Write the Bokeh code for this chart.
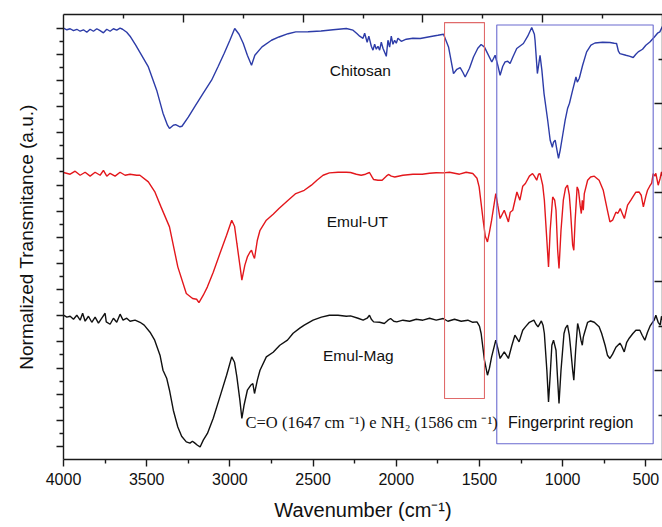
from bokeh.plotting import figure
from bokeh.models import Range1d, LinearAxis, FixedTicker, ColumnDataSource, CustomJSTickFormatter
from bokeh.models.labeling import CustomLabelingPolicy
from bokeh.core.properties import value
from bokeh.embed import file_html
from bokeh.resources import INLINE

# ---------------- data ----------------
chitosan_wn = [4000, 3980, 3960, 3940, 3920, 3900, 3880, 3860, 3840, 3820, 3800, 3780, 3760, 3740, 3720, 3700,
               3680, 3660, 3645, 3620, 3600, 3566, 3490, 3440, 3402, 3375, 3363, 3340, 3326, 3300, 3288, 3250,
               3212, 3160, 3110, 3070, 3034, 3000, 2971, 2945, 2920, 2895, 2870, 2850, 2807, 2750, 2705, 2650,
               2604, 2530, 2452, 2380, 2300, 2260, 2237, 2220, 2200, 2190, 2175, 2165, 2150, 2140, 2130, 2120,
               2110, 2100, 2090, 2080, 2070, 2060, 2050, 2040, 2030, 2020, 2010, 2000, 1990, 1970, 1940, 1900,
               1856, 1800, 1750, 1716, 1686, 1656, 1636, 1616, 1600, 1586, 1560, 1536, 1510, 1490, 1470, 1456,
               1426, 1406, 1390, 1376, 1360, 1346, 1330, 1316, 1300, 1276, 1236, 1210, 1186, 1170, 1166, 1152,
               1136, 1125, 1112, 1090, 1075, 1062, 1055, 1045, 1034, 1025, 1015, 1000, 985, 970, 959, 940,
               920, 912, 900, 880, 856, 830, 806, 760, 716, 690, 676, 665, 656, 620, 600, 576,
               560, 546, 520, 500, 476, 450, 430, 416, 400]
chitosan_t = [33.00, 32.88, 32.96, 32.81, 32.92, 32.77, 32.88, 32.69, 32.92, 32.77, 32.96, 32.81, 32.65, 32.92, 32.77, 32.96,
              32.85, 33.00, 32.92, 32.69, 32.39, 31.70, 30.04, 28.26, 26.50, 25.58, 25.33, 25.58, 25.62, 25.46, 25.50, 26.19,
              26.98, 28.03, 29.02, 30.09, 31.09, 32.08, 32.98, 32.54, 31.85, 30.93, 30.17, 30.93, 31.57, 32.08, 32.33, 32.58,
              32.72, 32.73, 32.79, 32.88, 32.98, 32.85, 32.59, 32.39, 32.23, 32.62, 31.93, 32.39, 31.62, 31.32, 31.77, 31.39,
              31.62, 31.32, 31.93, 31.47, 31.16, 30.85, 32.08, 31.55, 32.39, 31.77, 32.08, 31.85, 32.23, 32.00, 32.16, 32.23,
              32.21, 32.35, 32.46, 32.54, 31.57, 29.53, 29.86, 29.99, 29.63, 29.27, 29.94, 30.80, 31.47, 31.75, 31.55, 31.19,
              30.42, 30.93, 30.17, 29.40, 30.09, 30.42, 30.47, 30.30, 30.78, 31.45, 31.83, 32.39, 33.05, 32.54, 32.08, 29.53,
              30.93, 29.79, 28.00, 25.96, 24.43, 23.89, 24.28, 24.43, 23.66, 23.05, 23.66, 24.81, 25.96, 26.88, 27.26, 28.26,
              29.27, 28.87, 29.17, 30.17, 31.19, 31.70, 31.87, 31.93, 31.91, 31.85, 31.83, 31.24, 31.06, 30.93, 30.86, 30.76,
              31.01, 31.19, 31.39, 31.70, 31.95, 32.31, 32.62, 32.72, 33.15]

emul_ut_wn = [4000, 3960, 3930, 3900, 3870, 3840, 3810, 3780, 3760, 3740, 3720, 3690, 3660, 3630, 3600, 3560,
              3541, 3490, 3450, 3414, 3363, 3313, 3262, 3224, 3200, 3186, 3160, 3135, 3100, 3060, 3020, 2989,
              2972, 2958, 2940, 2928, 2910, 2895, 2880, 2870, 2860, 2852, 2835, 2819, 2781, 2740, 2705, 2650,
              2604, 2553, 2510, 2477, 2440, 2402, 2350, 2300, 2275, 2240, 2211, 2185, 2161, 2145, 2136, 2110,
              2085, 2060, 2047, 2030, 2009, 1960, 1900, 1844, 1800, 1760, 1718, 1680, 1620, 1580, 1540, 1515,
              1502, 1478, 1465, 1452, 1440, 1427, 1402, 1390, 1376, 1351, 1326, 1315, 1300, 1275, 1257, 1240,
              1224, 1200, 1181, 1170, 1156, 1145, 1136, 1120, 1110, 1095, 1085, 1075, 1060, 1048, 1040, 1030,
              1022, 1010, 996, 983, 971, 960, 953, 940, 933, 925, 913, 905, 895, 888, 882, 876,
              870, 850, 832, 810, 781, 756, 731, 716, 700, 680, 668, 654, 640, 629, 610, 590,
              578, 560, 541, 528, 515, 500, 490, 477, 465, 456, 445, 440, 426, 414, 406, 400]
emul_ut_t = [21.96, 21.83, 22.06, 21.75, 21.98, 21.68, 21.98, 21.75, 22.13, 21.68, 21.90, 21.68, 21.98, 21.75, 21.83, 21.75,
             21.75, 21.24, 20.45, 19.33, 17.80, 14.74, 12.70, 12.32, 12.26, 12.01, 12.57, 13.21, 14.33, 15.76, 17.16, 18.31,
             17.85, 16.53, 14.87, 13.72, 14.87, 15.50, 15.86, 16.01, 15.63, 15.38, 16.78, 17.54, 18.31, 18.77, 19.20, 19.84,
             20.35, 20.60, 20.99, 21.37, 21.75, 21.93, 21.98, 21.98, 21.96, 21.83, 21.75, 21.83, 21.96, 21.60, 21.42, 21.37,
             21.37, 21.68, 21.81, 21.68, 21.62, 21.75, 21.83, 21.83, 21.90, 21.94, 21.93, 21.98, 21.83, 21.98, 21.88, 21.52,
             20.86, 18.31, 17.08, 16.65, 17.39, 18.31, 20.35, 19.46, 18.44, 19.07, 18.18, 18.92, 19.07, 20.47, 19.84, 20.91,
             21.12, 21.68, 21.88, 21.68, 21.37, 21.83, 21.88, 20.99, 19.84, 16.78, 14.74, 17.54, 20.09, 19.84, 19.07, 16.01,
             14.61, 17.54, 19.84, 20.76, 20.99, 20.22, 19.07, 16.40, 16.01, 18.31, 20.86, 20.60, 19.46, 18.82, 19.84, 19.07,
             20.35, 21.37, 21.62, 21.68, 21.37, 20.60, 19.07, 18.18, 18.31, 18.92, 18.84, 19.20, 18.77, 18.44, 19.46, 19.84,
             20.09, 20.45, 20.47, 20.22, 19.33, 20.15, 20.60, 20.91, 21.14, 21.88, 21.68, 21.90, 20.99, 21.52, 22.00, 21.68]

emul_mag_wn = [4000, 3980, 3960, 3940, 3920, 3900, 3885, 3870, 3850, 3830, 3810, 3790, 3770, 3750, 3743, 3720,
               3700, 3680, 3660, 3642, 3620, 3600, 3570, 3540, 3515, 3480, 3452, 3420, 3402, 3380, 3363, 3340,
               3313, 3290, 3262, 3240, 3225, 3212, 3195, 3179, 3160, 3135, 3100, 3060, 3020, 2989, 2972, 2958,
               2940, 2928, 2915, 2895, 2875, 2862, 2852, 2835, 2819, 2781, 2740, 2700, 2654, 2620, 2580, 2553,
               2500, 2450, 2402, 2350, 2300, 2275, 2230, 2199, 2175, 2161, 2150, 2136, 2100, 2072, 2050, 2034,
               2015, 1997, 1960, 1920, 1880, 1840, 1800, 1760, 1718, 1690, 1650, 1610, 1570, 1540, 1515, 1500,
               1490, 1470, 1452, 1440, 1427, 1402, 1390, 1376, 1351, 1326, 1305, 1287, 1262, 1240, 1224, 1200,
               1173, 1160, 1148, 1128, 1118, 1110, 1095, 1085, 1075, 1065, 1055, 1040, 1030, 1022, 1010, 992,
               983, 971, 960, 953, 940, 933, 922, 910, 900, 890, 882, 876, 870, 850, 832, 810,
               781, 766, 745, 731, 716, 700, 680, 656, 645, 630, 615, 600, 578, 560, 536, 522,
               506, 490, 475, 464, 450, 440, 426, 414, 406, 400]
emul_mag_t = [11.04, 10.89, 10.96, 10.73, 11.04, 10.66, 11.19, 10.58, 10.96, 10.50, 10.89, 10.43, 10.81, 11.19, 10.53, 10.35,
              10.81, 10.50, 11.12, 10.66, 10.81, 10.58, 10.66, 10.50, 10.28, 9.74, 9.13, 7.98, 6.83, 6.22, 5.30, 3.77,
              2.49, 1.78, 1.35, 1.25, 1.40, 1.27, 1.09, 0.96, 1.48, 1.99, 3.16, 4.79, 6.45, 7.85, 7.44, 6.32,
              4.54, 3.14, 4.15, 5.30, 5.68, 5.81, 5.05, 6.07, 6.83, 7.85, 8.21, 8.74, 9.13, 9.66, 10.05, 10.28,
              10.66, 10.89, 11.04, 11.04, 10.96, 10.99, 10.81, 10.66, 10.81, 11.04, 10.73, 10.53, 10.50, 10.41, 10.66, 10.79,
              10.58, 10.53, 10.66, 10.58, 10.73, 10.66, 10.81, 10.66, 10.79, 10.58, 10.73, 10.58, 10.66, 10.50, 10.53, 10.20,
              9.64, 7.60, 6.45, 6.99, 7.85, 9.13, 8.52, 7.73, 8.23, 7.73, 8.74, 9.51, 9.00, 9.89, 10.15, 10.50,
              10.66, 10.35, 10.15, 10.60, 10.28, 9.64, 6.83, 4.41, 6.45, 8.74, 9.13, 8.36, 6.07, 4.28, 6.83, 9.64,
              10.05, 10.28, 9.51, 8.62, 6.83, 6.07, 8.36, 10.41, 9.89, 9.13, 8.74, 9.36, 9.64, 10.50, 10.60, 10.50,
              10.15, 9.66, 8.74, 7.98, 7.73, 8.06, 8.59, 8.90, 8.67, 8.23, 8.97, 9.28, 9.64, 9.89, 9.89, 9.51,
              9.13, 9.74, 10.20, 10.41, 10.66, 11.04, 10.50, 10.28, 10.96, 10.66]

x_major_ticks = [4000, 3500, 3000, 2500, 2000, 1500, 1000, 500]
x_minor_ticks = [3750, 3250, 2750, 2250, 1750, 1250, 750]

sample_names = ["Chitosan", "Emul-UT", "Emul-Mag"]
sample_label_wn = [2216, 2234, 2228]
sample_label_t = [29.79, 18.23, 7.98]

# highlighted regions (wavenumber limits, transmittance limits)
carbonyl_box = dict(left=1710, right=1470, bottom=4.67, top=33.43)
fingerprint_box = dict(left=1396, right=456, bottom=1.21, top=33.25)

note_texts = ["C=O (1647 cm \u207b\u00b9) e NH\u2082 (1586 cm \u207b\u00b9)", "Fingerprint region"]
note_wn = [2906, 1328]
note_t = [2.85, 2.80]

# ---------------- figure ----------------
FONT = "Liberation Sans"
p = figure(width=662, height=527, output_backend="svg", toolbar_location=None,
           x_range=Range1d(4000, 400), y_range=Range1d(0, 34.05),
           min_border_left=63, min_border_right=0, min_border_top=14, min_border_bottom=68)
p.xgrid.visible = False
p.ygrid.visible = False
p.outline_line_color = None
p.background_fill_color = "white"
p.border_fill_color = "white"

p.extra_x_ranges = {"top": Range1d(0, 10)}
p.extra_y_ranges = {"right": Range1d(0, 10)}

AX_COLOR = "#1a1a1a"
AX_W = 1.4


def no_labels():
    return dict(formatter=CustomJSTickFormatter(code="return ''"),
                major_label_policy=CustomLabelingPolicy(code="return false"),
                major_label_standoff=0)


# bottom axis
xa = p.xaxis[0]
xa.ticker = FixedTicker(ticks=x_major_ticks, minor_ticks=x_minor_ticks)
xa.axis_label = "Wavenumber (cm\u207b\u00b9)"
xa.axis_label_text_font = FONT
xa.axis_label_text_font_style = "normal"
xa.axis_label_text_font_size = "20px"
xa.axis_label_text_color = "#111111"
xa.axis_label_standoff = 11
xa.major_label_text_font = FONT
xa.major_label_text_font_size = "16px"
xa.major_label_text_color = "#111111"
xa.major_label_standoff = 6
xa.major_tick_out = 7
xa.major_tick_in = 0
xa.minor_tick_out = 4
xa.minor_tick_in = 0
xa.axis_line_color = AX_COLOR
xa.axis_line_width = AX_W
xa.major_tick_line_color = AX_COLOR
xa.major_tick_line_width = AX_W
xa.minor_tick_line_color = AX_COLOR
xa.minor_tick_line_width = AX_W

# left axis
ya = p.yaxis[0]
ya.ticker = FixedTicker(ticks=list(range(1, 34, 2)), minor_ticks=list(range(2, 33, 2)))
ya.axis_label = "Normalized Transmitance (a.u.)"
ya.axis_label_text_font = FONT
ya.axis_label_text_font_style = "normal"
ya.axis_label_text_font_size = "19px"
ya.axis_label_text_color = "#111111"
ya.axis_label_standoff = 20
for k, v in no_labels().items():
    setattr(ya, k, v)
ya.major_tick_out = 7
ya.major_tick_in = 0
ya.minor_tick_out = 4
ya.minor_tick_in = 0
ya.axis_line_color = AX_COLOR
ya.axis_line_width = AX_W
ya.major_tick_line_color = AX_COLOR
ya.major_tick_line_width = AX_W
ya.minor_tick_line_color = AX_COLOR
ya.minor_tick_line_width = AX_W

# top axis
top_axis = LinearAxis(x_range_name="top",
                      ticker=FixedTicker(ticks=[2, 4, 6, 8], minor_ticks=[1, 3, 5, 7, 9]),
                      major_tick_in=8, major_tick_out=0, minor_tick_in=4, minor_tick_out=0,
                      axis_line_color=AX_COLOR, axis_line_width=AX_W,
                      major_tick_line_color=AX_COLOR, major_tick_line_width=AX_W,
                      minor_tick_line_color=AX_COLOR, minor_tick_line_width=AX_W,
                      **no_labels())
p.add_layout(top_axis, "above")

# right axis
right_axis = LinearAxis(y_range_name="right",
                        ticker=FixedTicker(ticks=[2, 4, 6, 8], minor_ticks=[1, 3, 5, 7, 9]),
                        major_tick_in=8, major_tick_out=0, minor_tick_in=4, minor_tick_out=0,
                        axis_line_color=AX_COLOR, axis_line_width=AX_W,
                        major_tick_line_color=AX_COLOR, major_tick_line_width=AX_W,
                        minor_tick_line_color=AX_COLOR, minor_tick_line_width=AX_W,
                        **no_labels())
p.add_layout(right_axis, "right")

# spectra
p.line(chitosan_wn, chitosan_t, line_color="#2D3CA8", line_width=1.4)
p.line(emul_ut_wn, emul_ut_t, line_color="#E3171C", line_width=1.4)
p.line(emul_mag_wn, emul_mag_t, line_color="#111111", line_width=1.4)

# highlight boxes
p.quad(left=[carbonyl_box["left"]], right=[carbonyl_box["right"]],
       bottom=[carbonyl_box["bottom"]], top=[carbonyl_box["top"]],
       fill_alpha=0, line_color="#E06A6A", line_width=1.1)
p.quad(left=[fingerprint_box["left"]], right=[fingerprint_box["right"]],
       bottom=[fingerprint_box["bottom"]], top=[fingerprint_box["top"]],
       fill_alpha=0, line_color="#6A6AD0", line_width=1.1)

# sample labels
src_names = ColumnDataSource(dict(x=sample_label_wn, y=sample_label_t, text=sample_names))
p.text(x="x", y="y", text="text", source=src_names, text_font=value(FONT),
       text_font_size=value("15.5px"), text_color="#111111",
       text_align="center", text_baseline="middle")

# notes
p.text(x=[note_wn[0]], y=[note_t[0]], text=[note_texts[0]], text_font=value("Liberation Serif"),
       text_font_size=value("16.5px"), text_color="#111111",
       text_align="left", text_baseline="middle")
p.text(x=[note_wn[1]], y=[note_t[1]], text=[note_texts[1]], text_font=value(FONT),
       text_font_size=value("16px"), text_color="#111111",
       text_align="left", text_baseline="middle")

open("out.html", "w").write(file_html(p, INLINE))
